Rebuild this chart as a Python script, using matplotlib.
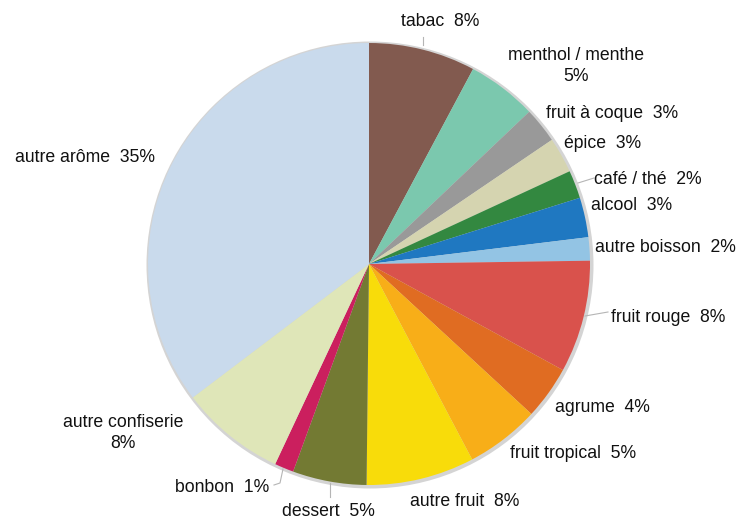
import matplotlib
matplotlib.use("Agg")
import matplotlib.pyplot as plt
from matplotlib.patches import Circle

# ---- data (clockwise from 12 o'clock) ----
categories = ["tabac", "menthol / menthe", "fruit à coque", "épice", "café / thé",
              "alcool", "autre boisson", "fruit rouge", "agrume", "fruit tropical",
              "autre fruit", "dessert", "bonbon", "autre confiserie", "autre arôme"]
values = [7.8, 5.1, 2.6, 2.6, 2.05, 2.9, 1.7, 8.2, 3.9, 5.4, 7.9, 5.4, 1.4, 7.7, 35.3]
shown_pct = [8, 5, 3, 3, 2, 3, 2, 8, 4, 5, 8, 5, 1, 8, 35]
colors = ["#825A4F", "#7BC8AE", "#999999", "#D5D4B0", "#338840",
          "#1F78C1", "#93C4E4", "#D9524C", "#E06C22", "#F8AE18",
          "#F8DC0A", "#737A33", "#CB1F5E", "#DFE6B8", "#C9DAEC"]

# label layout (pixel positions, y from top) and whether split on two lines
label_pos = [(440, 21), (576, 66), (612, 113), (603, 143), (648, 179),
             (632, 206), (665, 247), (668, 318), (602, 407), (573, 453),
             (465, 502), (328, 512), (222, 487), (123, 433), (85, 157)]
two_line = [False, True, False, False, False, False, False, False, False, False,
            False, False, False, True, False]

W, H = 739, 520
fig = plt.figure(figsize=(W / 100, H / 100), dpi=100)
ax = fig.add_axes([0, 0, 1, 1])
ax.set_xlim(0, W)
ax.set_ylim(0, H)
ax.set_aspect("equal")
ax.axis("off")

cx, cy, r = 369, H - 264, 221

# soft outline/shadow
ax.add_patch(Circle((cx + 1, cy - 1), r + 2.5, facecolor="#d4d4d4", edgecolor="none", zorder=0))

ax.pie(values, colors=colors, startangle=90, counterclock=False, center=(cx, cy),
       radius=r, wedgeprops=dict(linewidth=0, edgecolor="none"), frame=True)
ax.set_xlim(0, W)
ax.set_ylim(0, H)
ax.axis("off")

for name, pct, (px, py), tl in zip(categories, shown_pct, label_pos, two_line):
    txt = f"{name}\n{pct}%" if tl else f"{name}  {pct}%"
    ax.text(px, H - py, txt, ha="center", va="center", fontsize=12.7,
            family=["Liberation Sans", "DejaVu Sans"], color="#111111",
            linespacing=1.25, zorder=5)

# leader lines
leaders = [[(423, 37), (423, 45)],
           [(578, 183), (594, 178)],
           [(585, 316), (608, 312)],
           [(330, 483), (330, 497)],
           [(283, 469), (280, 483), (274, 485)]]
for pts in leaders:
    xs = [p[0] for p in pts]
    ys = [H - p[1] for p in pts]
    ax.plot(xs, ys, color="#b5b5b5", linewidth=0.8, zorder=4)

fig.savefig("out.png", dpi=100, facecolor="white")
